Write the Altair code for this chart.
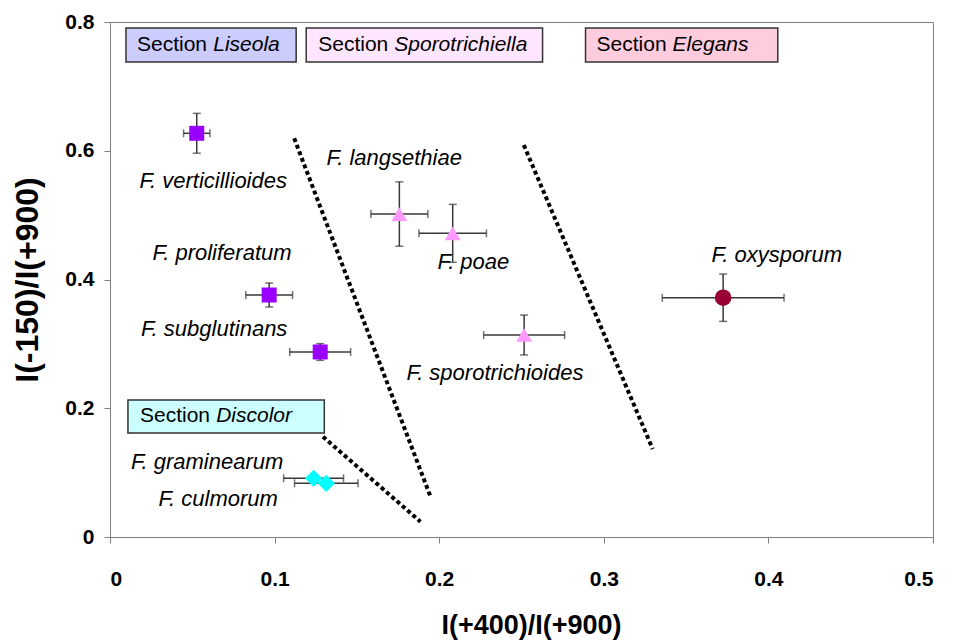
import altair as alt
import pandas as pd

# Species means with standard errors
species = ["F. verticillioides", "F. proliferatum", "F. subglutinans",
           "F. langsethiae", "F. poae", "F. sporotrichioides",
           "F. oxysporum", "F. graminearum", "F. culmorum"]
section = ["Liseola", "Liseola", "Liseola",
           "Sporotrichiella", "Sporotrichiella", "Sporotrichiella",
           "Elegans", "Discolor", "Discolor"]
x_mean = [0.0527, 0.0967, 0.1277, 0.1758, 0.2082, 0.2516, 0.3725, 0.1237, 0.1314]
y_mean = [0.6271, 0.3759, 0.2874, 0.5017, 0.4717, 0.3138, 0.3717, 0.0912, 0.0834]
x_err = [0.008, 0.0142, 0.0185, 0.0173, 0.0205, 0.0246, 0.037, 0.0182, 0.0193]
y_err = [0.031, 0.0186, 0.013, 0.050, 0.045, 0.031, 0.0368, 0.004, 0.004]

# Species name labels
label_text = species
label_x = [0.0627, 0.0681, 0.0633, 0.1727, 0.2208, 0.2339, 0.4051, 0.0590, 0.0657]
label_y = [0.553, 0.441, 0.323, 0.589, 0.427, 0.2548, 0.438, 0.1165, 0.059]

# Dotted separators between sections
sep_x1 = [0.1119, 0.2514, 0.1294]
sep_y1 = [0.6193, 0.6089, 0.1558]
sep_x2 = [0.1951, 0.3297, 0.1886]
sep_y2 = [0.0601, 0.1367, 0.0238]

# Section boxes
sec_names = ["Liseola", "Sporotrichiella", "Elegans", "Discolor"]
sec_fill = ["#ccccff", "#ffe6ff", "#ffccdd", "#ccffff"]
box_x1 = [0.0097, 0.1192, 0.2889, 0.0109]
box_x2 = [0.1131, 0.2628, 0.4057, 0.1302]
box_y1 = [0.7907, 0.7907, 0.7907, 0.2128]
box_y2 = [0.7379, 0.7379, 0.7379, 0.1616]
sec_word_x = [0.0164, 0.1265, 0.2956, 0.0182]
sec_name_x = [0.0627, 0.1727, 0.3418, 0.0645]
sec_text_y = [0.7635, 0.7635, 0.7635, 0.1872]

sec_order = ["Liseola", "Sporotrichiella", "Elegans", "Discolor"]
marker_color = ["#9900ff", "#ff99ff", "#990033", "#00ffff"]
marker_shape = ["square", "triangle-up", "circle", "diamond"]
marker_size = [225, 300, 185, 210]

pts = pd.DataFrame({
    "species": species, "section": section, "x": x_mean, "y": y_mean,
    "xlo": [a - b for a, b in zip(x_mean, x_err)],
    "xhi": [a + b for a, b in zip(x_mean, x_err)],
    "ylo": [a - b for a, b in zip(y_mean, y_err)],
    "yhi": [a + b for a, b in zip(y_mean, y_err)],
})
labels = pd.DataFrame({"text": label_text, "x": label_x, "y": label_y})
seps = pd.DataFrame({"x": sep_x1, "y": sep_y1, "x2": sep_x2, "y2": sep_y2})
boxes = pd.DataFrame({
    "name": sec_names, "fill": sec_fill,
    "x1": box_x1, "x2": box_x2, "y1": box_y1, "y2": box_y2,
    "wx": sec_word_x, "nx": sec_name_x, "ty": sec_text_y,
})

FONT = "Liberation Sans"
xs = alt.Scale(domain=[0, 0.5], nice=False, zero=False)
ys = alt.Scale(domain=[0, 0.8], nice=False, zero=False)

x_axis = alt.Axis(values=[0, 0.1, 0.2, 0.3, 0.4, 0.5], format=".1~f",
                  title="I(+400)/I(+900)", grid=False,
                  labelFont=FONT, labelFontSize=21, labelFontWeight="bold",
                  labelColor="#000000", labelPadding=25,
                  titleFont=FONT, titleFontSize=27, titleFontWeight="bold",
                  titleColor="#000000", titleBaseline="alphabetic", titleY=96,
                  titleX=421, titleAlign="center",
                  domainColor="#808080", tickColor="#808080", tickSize=6)
y_axis = alt.Axis(values=[0, 0.2, 0.4, 0.6, 0.8], format=".1~f",
                  title="I(-150)/I(+900)", grid=False,
                  labelFont=FONT, labelFontSize=21, labelFontWeight="bold",
                  labelColor="#000000", labelPadding=10,
                  titleFont=FONT, titleFontSize=32, titleFontWeight="bold",
                  titleColor="#000000", titleBaseline="alphabetic", titleX=-73,
                  domainColor="#808080", tickColor="#808080", tickSize=6)

sep_layer = alt.Chart(seps).mark_rule(
    color="#000000", strokeWidth=4, strokeDash=[4, 3]
).encode(x=alt.X("x:Q", scale=xs, axis=x_axis), y=alt.Y("y:Q", scale=ys, axis=y_axis),
         x2="x2:Q", y2="y2:Q")

box_layer = alt.Chart(boxes).mark_rect(stroke="#333333", strokeWidth=1.5).encode(
    x=alt.X("x1:Q", scale=xs), x2="x2:Q",
    y=alt.Y("y1:Q", scale=ys), y2="y2:Q",
    fill=alt.Fill("fill:N", scale=None),
)
box_word = alt.Chart(boxes).mark_text(
    align="left", baseline="middle", font=FONT, fontSize=21, color="#000000"
).encode(x=alt.X("wx:Q", scale=xs), y=alt.Y("ty:Q", scale=ys), text=alt.value("Section"))
box_name = alt.Chart(boxes).mark_text(
    align="left", baseline="middle", font=FONT, fontSize=21, fontStyle="italic",
    color="#000000"
).encode(x=alt.X("nx:Q", scale=xs), y=alt.Y("ty:Q", scale=ys), text="name:N")

ebar_color = "#383838"
xbar = alt.Chart(pts).mark_rule(color=ebar_color, strokeWidth=1.5).encode(
    x=alt.X("xlo:Q", scale=xs), x2="xhi:Q", y=alt.Y("y:Q", scale=ys))
ybar = alt.Chart(pts).mark_rule(color=ebar_color, strokeWidth=1.5).encode(
    x=alt.X("x:Q", scale=xs), y=alt.Y("ylo:Q", scale=ys), y2="yhi:Q")
cap_xlo = alt.Chart(pts).mark_tick(orient="vertical", color=ebar_color, thickness=1.5, size=8).encode(
    x=alt.X("xlo:Q", scale=xs), y=alt.Y("y:Q", scale=ys))
cap_xhi = alt.Chart(pts).mark_tick(orient="vertical", color=ebar_color, thickness=1.5, size=8).encode(
    x=alt.X("xhi:Q", scale=xs), y=alt.Y("y:Q", scale=ys))
cap_ylo = alt.Chart(pts).mark_tick(orient="horizontal", color=ebar_color, thickness=1.5, size=8).encode(
    x=alt.X("x:Q", scale=xs), y=alt.Y("ylo:Q", scale=ys))
cap_yhi = alt.Chart(pts).mark_tick(orient="horizontal", color=ebar_color, thickness=1.5, size=8).encode(
    x=alt.X("x:Q", scale=xs), y=alt.Y("yhi:Q", scale=ys))

point_layer = alt.Chart(pts).mark_point(filled=True, opacity=1).encode(
    x=alt.X("x:Q", scale=xs), y=alt.Y("y:Q", scale=ys),
    color=alt.Color("section:N", scale=alt.Scale(domain=sec_order, range=marker_color), legend=None),
    shape=alt.Shape("section:N", scale=alt.Scale(domain=sec_order, range=marker_shape), legend=None),
    size=alt.Size("section:N", scale=alt.Scale(domain=sec_order, range=marker_size), legend=None),
)

label_layer = alt.Chart(labels).mark_text(
    align="center", baseline="middle", font=FONT, fontSize=22, fontStyle="italic",
    color="#000000"
).encode(x=alt.X("x:Q", scale=xs), y=alt.Y("y:Q", scale=ys), text="text:N")

chart = alt.layer(
    sep_layer, box_layer, box_word, box_name,
    xbar, ybar, cap_xlo, cap_xhi, cap_ylo, cap_yhi,
    point_layer, label_layer,
).properties(
    width=823, height=515,
    autosize=alt.AutoSizeParams(type="none"),
    padding={"left": 110, "top": 22, "right": 24, "bottom": 103},
    background="#ffffff",
).configure_view(stroke="#808080", strokeWidth=1)

chart.save("out.html", embed_options={"renderer": "svg", "actions": False})
